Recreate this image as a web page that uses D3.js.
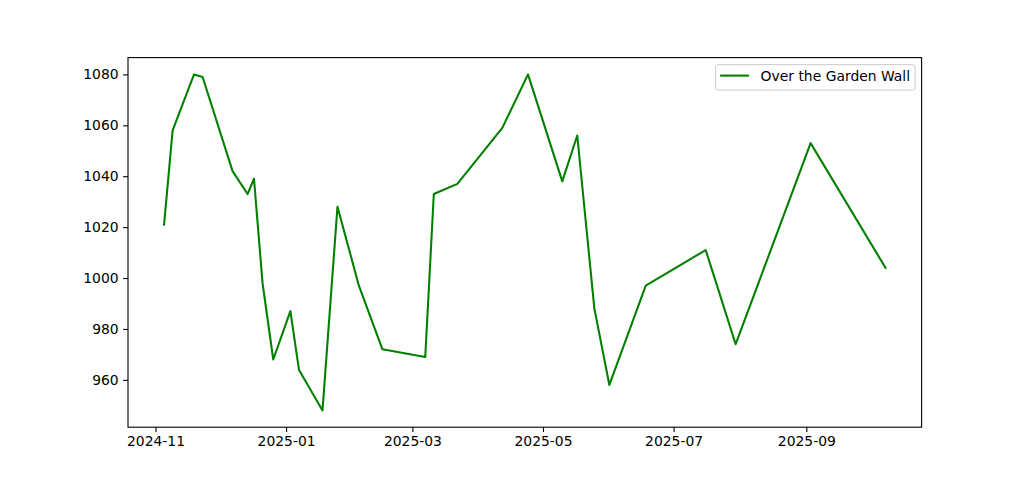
<!DOCTYPE html>
<html>
<head>
<meta charset="utf-8">
<script src="https://cdn.jsdelivr.net/npm/d3@7"></script>
<style>
  body { margin: 0; background: #fff; }
  text { font-family: "DejaVu Sans", sans-serif; }
</style>
</head>
<body>
<div id="myViz"></div>
<script>
const width = 1024
const height = 480
const margin = { top: 57.6, right: 102.4, bottom: 52.8, left: 128 }

// data
const dates = ["2024-11-05", "2024-11-09", "2024-11-19", "2024-11-23", "2024-12-07", "2024-12-14",
  "2024-12-17", "2024-12-21", "2024-12-26", "2025-01-03", "2025-01-07", "2025-01-18",
  "2025-01-25", "2025-02-04", "2025-02-15", "2025-03-07", "2025-03-11", "2025-03-22",
  "2025-04-12", "2025-04-24", "2025-05-10", "2025-05-17", "2025-05-25", "2025-06-01",
  "2025-06-18", "2025-07-16", "2025-07-30", "2025-09-03", "2025-10-08"]
const values = [1021, 1058, 1080, 1079, 1042, 1033, 1039, 998, 968, 987, 964, 948,
  1028, 997, 972, 969, 1033, 1037, 1059, 1080, 1038, 1056, 988, 958,
  997, 1011, 974, 1053, 1004]
const seriesName = "Over the Garden Wall"
const xTicks = ["2024-11-01", "2025-01-01", "2025-03-01", "2025-05-01", "2025-07-01", "2025-09-01"]
const yTicks = [960, 980, 1000, 1020, 1040, 1060, 1080]

const parse = d3.timeParse("%Y-%m-%d")
const data = dates.map((d, i) => ({ date: parse(d), value: values[i] }))

const innerW = width - margin.left - margin.right
const innerH = height - margin.top - margin.bottom

const svg = d3.select("#myViz")
  .append("svg")
    .attr("width", width)
    .attr("height", height)

const g = svg.append("g")
    .attr("transform", "translate(" + margin.left + "," + margin.top + ")")

// matplotlib-style 5% margins
const xExt = d3.extent(data, d => d.date)
const xPad = (xExt[1] - xExt[0]) * 0.05
const x = d3.scaleTime()
  .domain([new Date(+xExt[0] - xPad), new Date(+xExt[1] + xPad)])
  .range([0, innerW])

const yExt = d3.extent(data, d => d.value)
const yPad = (yExt[1] - yExt[0]) * 0.05
const y = d3.scaleLinear()
  .domain([yExt[0] - yPad, yExt[1] + yPad])
  .range([innerH, 0])

g.append("g")
  .attr("transform", "translate(0," + innerH + ")")
  .call(d3.axisBottom(x)
    .tickValues(xTicks.map(parse))
    .tickFormat(d3.timeFormat("%Y-%m"))
    .tickSize(4.86)
    .tickPadding(4.5))

g.append("g")
  .call(d3.axisLeft(y)
    .tickValues(yTicks)
    .tickFormat(d3.format("d"))
    .tickSize(4.86)
    .tickPadding(4.5))

svg.selectAll(".domain").remove()
svg.selectAll(".tick line").attr("stroke", "#000").attr("stroke-width", 1.1)
svg.selectAll(".tick text")
  .attr("fill", "#000")
  .style("font-size", "13.9px")
  .style("font-family", "'DejaVu Sans', sans-serif")

g.append("path")
  .datum(data)
  .attr("fill", "none")
  .attr("stroke", "#008000")
  .attr("stroke-width", 2.08)
  .attr("stroke-linejoin", "round")
  .attr("stroke-linecap", "square")
  .attr("d", d3.line()
    .x(d => x(d.date))
    .y(d => y(d.value)))

// frame
g.append("rect")
  .attr("x", 0)
  .attr("y", 0)
  .attr("width", innerW)
  .attr("height", innerH)
  .attr("fill", "none")
  .attr("stroke", "#000")
  .attr("stroke-width", 1.1)

// legend
const legend = g.append("g")
  .attr("transform", "translate(" + (innerW - 206) + ",7)")

legend.append("rect")
  .attr("width", 199.5)
  .attr("height", 25.5)
  .attr("rx", 2.5)
  .attr("fill", "#fff")
  .attr("fill-opacity", 0.8)
  .attr("stroke", "#cccccc")
  .attr("stroke-width", 1)

legend.append("line")
  .attr("x1", 4.5)
  .attr("x2", 33.5)
  .attr("y1", 11)
  .attr("y2", 11)
  .attr("stroke", "#008000")
  .attr("stroke-width", 2.08)

legend.append("text")
  .attr("x", 45)
  .attr("y", 16)
  .style("font-size", "13.9px")
  .attr("fill", "#000")
  .text(seriesName)
</script>
</body>
</html>
